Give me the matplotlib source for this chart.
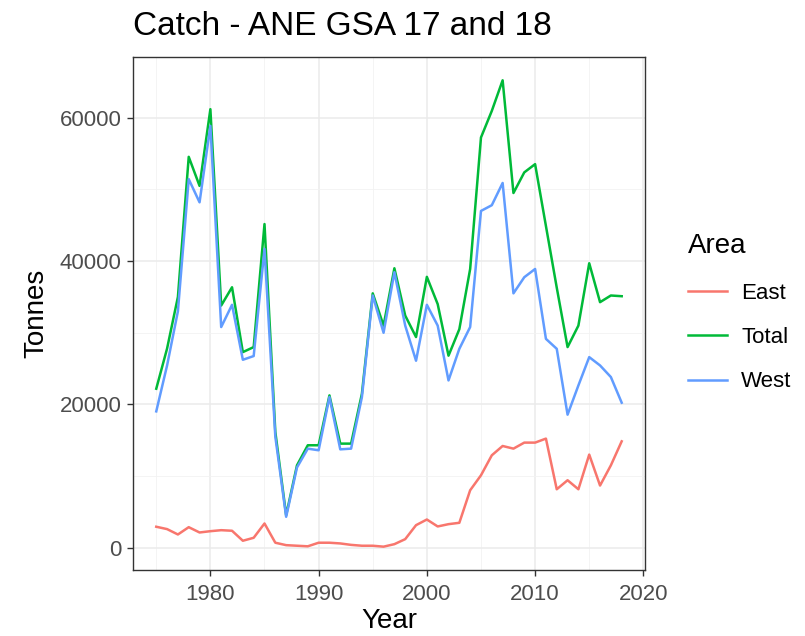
import numpy as np
import matplotlib.pyplot as plt
from matplotlib.ticker import MultipleLocator

plt.rcParams['font.family'] = ['Liberation Sans', 'DejaVu Sans']

# Yearly catch (tonnes) by area
years = np.arange(1975, 2019)
east = [2930, 2600, 1850, 2870, 2130, 2310, 2450, 2370, 975, 1390,
        3385, 700, 360, 280, 200, 700, 700, 600, 400, 280,
        280, 150, 500, 1200, 3150, 3940, 2970, 3290, 3480, 8020,
        10110, 12900, 14200, 13830, 14670, 14670, 15230, 8160, 9420, 8160,
        13000, 8680, 11500, 14850]
west = [19030, 25440, 33000, 51440, 48200, 58870, 30800, 33900, 26230, 26750,
        41700, 15500, 4320, 11200, 13830, 13600, 21030, 13730, 13830, 21030,
        35200, 30000, 38450, 31000, 26100, 33900, 31000, 23350, 27760, 30800,
        47000, 47800, 50900, 35500, 37750, 38900, 29150, 27760, 18570, 22650,
        26600, 25440, 23820, 20240]
total = [22190, 27800, 35000, 54550, 50500, 61200, 33800, 36350, 27300, 28000,
         45170, 16160, 4540, 11500, 14300, 14300, 21260, 14530, 14530, 21500,
         35500, 31000, 39000, 32400, 29400, 37800, 34000, 26800, 30500, 38900,
         57250, 60960, 65230, 49500, 52380, 53530, 44900, 36300, 28000, 31000,
         39700, 34270, 35200, 35100]

areas = ['East', 'Total', 'West']
colors = ['#F8766D', '#00BA38', '#619CFF']

fig = plt.figure(figsize=(8.05, 6.36), dpi=100)
ax = fig.add_axes([0.1652, 0.1038, 0.636, 0.8066])

for name, vals, col in zip(areas, [east, total, west], colors):
    ax.plot(years, vals, color=col, lw=1.8, label=name)

ax.margins(x=0.05, y=0.05)
ax.xaxis.set_major_locator(MultipleLocator(10))
ax.xaxis.set_minor_locator(MultipleLocator(5))
ax.yaxis.set_major_locator(MultipleLocator(20000))
ax.yaxis.set_minor_locator(MultipleLocator(10000))
ax.grid(which='major', color='#EBEBEB', lw=1.1)
ax.grid(which='minor', color='#F2F2F2', lw=0.6)
ax.set_axisbelow(True)

for s in ax.spines.values():
    s.set_color('#333333')
    s.set_linewidth(1.0)
ax.tick_params(which='major', length=4, width=1, color='#333333',
               labelsize=16, labelcolor='#4D4D4D', pad=4)
ax.tick_params(axis='x', which='major', pad=6)
ax.tick_params(which='minor', length=0)

ax.set_xlabel('Year', fontsize=20, labelpad=2)
ax.set_ylabel('Tonnes', fontsize=20, labelpad=8)
fig.text(0.1652, 0.958, 'Catch - ANE GSA 17 and 18', fontsize=24, va='center', ha='left')

leg = ax.legend(title='Area', loc='upper left', bbox_to_anchor=(1.045, 0.695),
                frameon=False, fontsize=16, title_fontsize=20, alignment='left',
                handlelength=1.75, handletextpad=0.65, labelspacing=1.05)

fig.savefig('out.png', dpi=100)
